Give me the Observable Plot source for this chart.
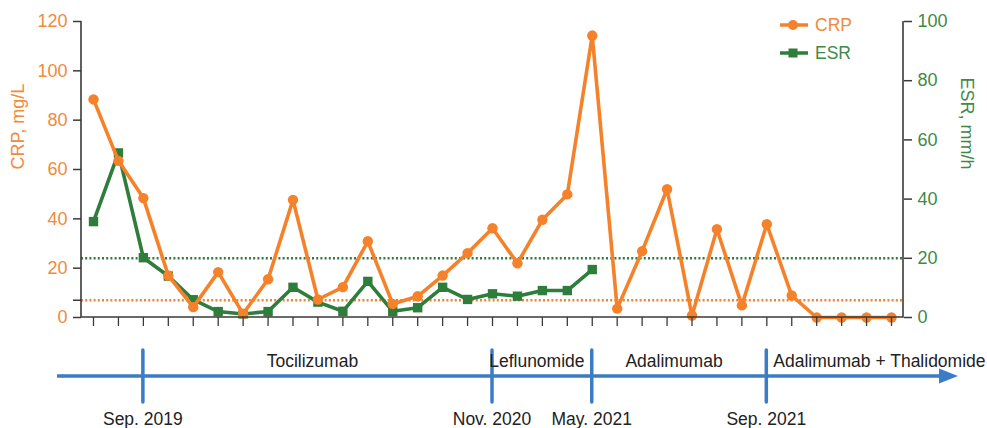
<!DOCTYPE html>
<html><head><meta charset="utf-8">
<script src="https://cdn.jsdelivr.net/npm/d3@7"></script>
<script src="https://cdn.jsdelivr.net/npm/@observablehq/plot@0.6"></script>
<style>body{margin:0;background:#fff}</style>
</head><body><div id="chart"></div>
<script>
// ---- data ----
const crp = [88.4, 63.5, 48.4, 17.0, 4.2, 18.4, 1.5, 15.5, 47.7, 7.3, 12.3, 30.9, 5.5, 8.6, 17.0, 26.1, 36.2, 22.0, 39.6, 49.9, 114.3, 3.6, 26.9, 52.0, 0.8, 35.8, 4.9, 37.8, 8.9, 0, 0, 0, 0];
const esr = [32.4, 55.6, 20.2, 14.0, 6.0, 2.0, 1.2, 2.0, 10.2, 5.2, 2.1, 12.2, 2.1, 3.3, 10.2, 6.1, 8.0, 7.2, 9.1, 9.1, 16.2];
const visits = d3.range(crp.length);
const crpTicks = [0, 20, 40, 60, 80, 100, 120];
const esrTicks = [0, 20, 40, 60, 80, 100];
const crpNormal = 7;
const esrNormal = 20;
const seriesNames = ["CRP", "ESR"];
const axisTitles = ["CRP, mg/L", "ESR, mm/h"];
const eventVisit = [2, 16, 20, 27];
const eventDates = ["Sep. 2019", "Nov. 2020", "May. 2021", "Sep. 2021"];
const treatments = ["Tocilizumab", "Leflunomide", "Adalimumab", "Adalimumab + Thalidomide"];

// ---- styles ----
const ORANGE = "#f5822a", ORANGE_T = "#f08a3c";
const GREEN = "#2f7d3b", GREEN_T = "#3f8a48";
const BLUE = "#3a7cc6", AXIS = "#3a3a3a";
const FONT = "'Liberation Sans', Arial, Helvetica, sans-serif";
const k = d3.max(crpTicks) / d3.max(esrTicks);

const crpData = crp.map((v, i) => ({i: visits[i], v}));
const esrData = esr.map((v, i) => ({i: visits[i], v: v * k}));

function overlay(index, scales, values, dim) {
  const {width, height, marginLeft, marginRight, marginTop, marginBottom} = dim;
  const x = scales.x;
  const left = marginLeft, right = width - marginRight, bottom = height - marginBottom;
  const g = d3.create("svg:g").attr("font-family", FONT).attr("text-anchor", "start");
  // axis lines
  g.append("path").attr("d", `M${left},${marginTop}V${bottom}H${right}V${marginTop}`)
    .attr("fill", "none").attr("stroke", AXIS).attr("stroke-width", 1.6);
  // legend
  const lx = right - 123, ly = [25, 53];
  const cols = [ORANGE, GREEN], tcols = [ORANGE_T, GREEN_T];
  seriesNames.forEach((name, j) => {
    g.append("line").attr("x1", lx).attr("x2", lx + 28).attr("y1", ly[j]).attr("y2", ly[j])
      .attr("stroke", cols[j]).attr("stroke-width", 3.5);
    if (j === 0) g.append("circle").attr("cx", lx + 13).attr("cy", ly[j]).attr("r", 5).attr("fill", cols[j]);
    else g.append("rect").attr("x", lx + 8.5).attr("y", ly[j] - 4.5).attr("width", 9).attr("height", 9).attr("fill", cols[j]);
    g.append("text").attr("x", lx + 35).attr("y", ly[j] + 6.3).attr("font-size", 17.5)
      .attr("text-anchor", "start").attr("fill", tcols[j]).text(name);
  });
  // timeline
  const ty = 376, tx0 = 57, tx1 = 958;
  g.append("line").attr("x1", tx0).attr("x2", tx1 - 16).attr("y1", ty).attr("y2", ty)
    .attr("stroke", BLUE).attr("stroke-width", 3.5);
  g.append("path").attr("d", `M${tx1 - 19},${ty - 7.5}L${tx1},${ty}L${tx1 - 19},${ty + 7.5}Z`).attr("fill", BLUE);
  const ex = eventVisit.map(v => x(v));
  ex.forEach((px, j) => {
    g.append("line").attr("x1", px).attr("x2", px).attr("y1", 350).attr("y2", 402)
      .attr("stroke", BLUE).attr("stroke-width", 3.5).attr("stroke-linecap", "round");
    g.append("text").attr("x", px).attr("y", 425).attr("text-anchor", "middle")
      .attr("font-size", 17.5).attr("fill", "#222").text(eventDates[j]);
  });
  treatments.forEach((t, j) => {
    const t_ = g.append("text").attr("y", 367).attr("font-size", 17.5).attr("fill", "#222").text(t);
    if (j < ex.length - 1) t_.attr("x", (ex[j] + ex[j + 1]) / 2 - 5).attr("text-anchor", "middle");
    else t_.attr("x", ex[j] + 7).attr("text-anchor", "start");
  });
  return g.node();
}

const chart = Plot.plot({
  width: 987, height: 428,
  marginLeft: 81, marginRight: 84, marginTop: 21, marginBottom: 111,
  style: {fontFamily: FONT, background: "#fff", overflow: "visible"},
  x: {type: "linear", domain: d3.extent(visits), insetLeft: 12, insetRight: 12},
  y: {domain: [0, d3.max(crpTicks)]},
  marks: [
    Plot.ruleY([esrNormal * k], {stroke: GREEN, strokeWidth: 2.6, strokeDasharray: "2,2.2"}),
    Plot.ruleY([crpNormal], {stroke: ORANGE, strokeWidth: 2.4, strokeDasharray: "2,2.2"}),
    Plot.line(esrData, {x: "i", y: "v", stroke: GREEN, strokeWidth: 3.6}),
    Plot.dot(esrData, {x: "i", y: "v", symbol: "square", r: 5.3, fill: GREEN}),
    Plot.line(crpData, {x: "i", y: "v", stroke: ORANGE, strokeWidth: 3.6}),
    Plot.dot(crpData, {x: "i", y: "v", r: 5.2, fill: ORANGE}),
    Plot.axisX({ticks: visits, tickFormat: () => "", tickSize: 9, stroke: AXIS, strokeWidth: 1.3, label: null}),
    Plot.axisY({anchor: "left", ticks: [...crpTicks, crpNormal], tickFormat: d => d === crpNormal ? "" : d,
      tickSize: 8, tickPadding: 6, fontSize: 18, stroke: AXIS, strokeWidth: 1.5, fill: ORANGE_T, label: null}),
    Plot.axisY({anchor: "right", ticks: esrTicks.map(v => v * k), tickFormat: d => Math.round(d / k),
      tickSize: 8, tickPadding: 6, fontSize: 18, stroke: AXIS, strokeWidth: 1.5, fill: GREEN_T, label: null}),
    Plot.text([axisTitles[0]], {frameAnchor: "left", rotate: -90, dx: -63, fill: ORANGE_T, fontSize: 18}),
    Plot.text([axisTitles[1]], {frameAnchor: "right", rotate: 90, dx: 63, fill: GREEN_T, fontSize: 18}),
    overlay
  ]
});
document.getElementById("chart").append(chart);
</script>
</body></html>
